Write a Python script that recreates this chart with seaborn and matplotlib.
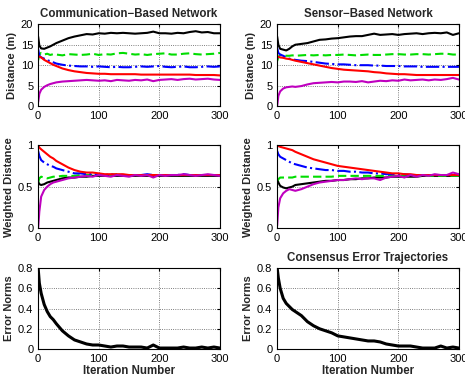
import matplotlib
matplotlib.use("Agg")
import matplotlib.pyplot as plt
import seaborn as sns

# iteration grid of the sampled values
iters = [0, 2, 5, 10, 15, 20, 25, 30, 40, 50, 60, 70, 80, 90, 100, 110, 120, 130,
         140, 150, 160, 170, 180, 190, 200, 210, 220, 230, 240, 250, 260, 270,
         280, 290, 300]

# Communication-based network, distance (m)
comm_black = [17.0, 14.8, 14.1, 14.0, 14.3, 14.6, 15.0, 15.4, 16.0, 16.6, 17.0, 17.3, 17.6, 17.5, 17.8, 17.7, 17.9, 17.8, 17.9, 17.8, 17.7, 17.8, 17.9, 18.2, 17.8, 17.8, 17.7, 17.9, 17.8, 18.1, 18.3, 18.0, 18.1, 17.8, 17.8]
comm_green = [11.2, 12.6, 13.0, 12.6, 12.8, 12.5, 12.7, 12.6, 12.4, 12.7, 12.6, 12.5, 12.6, 12.8, 12.5, 12.7, 12.6, 12.9, 13.0, 12.8, 12.6, 12.7, 12.5, 12.7, 12.8, 12.9, 12.6, 12.6, 12.8, 12.9, 12.7, 12.6, 12.7, 12.8, 13.0]
comm_blue = [14.0, 12.3, 11.9, 11.6, 11.2, 11.0, 10.7, 10.4, 10.1, 9.9, 9.8, 9.7, 9.7, 9.6, 9.7, 9.6, 9.5, 9.6, 9.5, 9.5, 9.6, 9.7, 9.6, 9.7, 9.8, 9.6, 9.5, 9.6, 9.7, 9.5, 9.5, 9.6, 9.7, 9.6, 9.7]
comm_red = [12.2, 12.1, 11.9, 11.3, 10.9, 10.5, 10.1, 9.8, 9.2, 8.8, 8.5, 8.3, 8.1, 8.0, 7.9, 7.9, 7.8, 7.8, 7.8, 7.8, 7.8, 7.7, 7.7, 7.7, 7.7, 7.7, 7.7, 7.7, 7.7, 7.7, 7.6, 7.6, 7.6, 7.6, 7.5]
comm_magenta = [1.0, 3.0, 4.0, 4.7, 5.1, 5.4, 5.6, 5.8, 6.0, 6.1, 6.2, 6.3, 6.4, 6.3, 6.2, 6.3, 6.1, 6.4, 6.3, 6.2, 6.4, 6.3, 6.5, 6.1, 6.4, 6.5, 6.6, 6.4, 6.6, 6.7, 6.5, 6.6, 6.7, 6.5, 6.4]

# Sensor-based network, distance (m)
sens_black = [17.0, 15.0, 14.0, 13.8, 13.6, 14.0, 14.6, 15.0, 15.2, 15.4, 15.8, 16.2, 16.3, 16.5, 16.6, 16.8, 17.0, 17.1, 17.1, 17.4, 17.7, 17.4, 17.5, 17.6, 17.4, 17.6, 17.7, 17.8, 17.6, 17.8, 17.9, 17.8, 18.0, 17.4, 17.8]
sens_green = [11.0, 12.0, 12.5, 12.6, 12.3, 12.3, 12.4, 12.3, 12.4, 12.5, 12.4, 12.5, 12.4, 12.5, 12.5, 12.6, 12.5, 12.4, 12.5, 12.6, 12.5, 12.5, 12.6, 12.7, 12.7, 12.6, 12.6, 12.7, 12.7, 12.6, 12.7, 12.8, 12.8, 12.6, 12.6]
sens_blue = [14.2, 13.0, 12.6, 12.3, 11.9, 11.6, 11.4, 11.3, 11.1, 11.0, 10.8, 10.6, 10.4, 10.3, 10.2, 10.2, 10.1, 10.0, 10.0, 10.0, 9.9, 9.9, 9.8, 9.8, 9.8, 9.7, 9.7, 9.7, 9.6, 9.6, 9.6, 9.6, 9.6, 9.6, 9.6]
sens_red = [12.2, 12.0, 11.9, 11.8, 11.6, 11.5, 11.3, 11.1, 10.8, 10.5, 10.2, 9.9, 9.6, 9.3, 9.1, 8.9, 8.8, 8.7, 8.6, 8.5, 8.3, 8.2, 8.0, 7.9, 7.8, 7.8, 7.7, 7.6, 7.6, 7.6, 7.6, 7.6, 7.6, 7.6, 7.6]
sens_magenta = [0.0, 2.5, 3.6, 4.3, 4.6, 4.7, 4.8, 4.7, 4.9, 5.3, 5.6, 5.7, 5.8, 5.9, 5.8, 6.0, 6.0, 5.9, 6.1, 5.8, 6.0, 6.2, 6.1, 6.3, 6.2, 6.5, 6.3, 6.4, 6.5, 6.3, 6.5, 6.4, 6.6, 6.9, 6.5]

# Communication-based network, weighted distance
wcomm_red = [1.0, 0.97, 0.95, 0.92, 0.89, 0.86, 0.84, 0.81, 0.77, 0.73, 0.70, 0.68, 0.67, 0.67, 0.66, 0.65, 0.65, 0.65, 0.65, 0.64, 0.64, 0.64, 0.64, 0.64, 0.64, 0.64, 0.64, 0.64, 0.64, 0.64, 0.64, 0.64, 0.64, 0.64, 0.64]
wcomm_blue = [0.93, 0.87, 0.82, 0.79, 0.77, 0.75, 0.74, 0.72, 0.70, 0.68, 0.66, 0.66, 0.65, 0.65, 0.64, 0.64, 0.65, 0.64, 0.64, 0.64, 0.64, 0.64, 0.65, 0.64, 0.64, 0.64, 0.64, 0.64, 0.65, 0.64, 0.64, 0.64, 0.64, 0.64, 0.64]
wcomm_green = [0.55, 0.60, 0.62, 0.61, 0.60, 0.61, 0.62, 0.62, 0.63, 0.63, 0.63, 0.64, 0.64, 0.64, 0.64, 0.64, 0.64, 0.65, 0.64, 0.64, 0.64, 0.64, 0.64, 0.64, 0.64, 0.64, 0.64, 0.64, 0.64, 0.64, 0.64, 0.64, 0.64, 0.64, 0.64]
wcomm_black = [0.56, 0.53, 0.52, 0.53, 0.55, 0.56, 0.57, 0.58, 0.60, 0.61, 0.61, 0.62, 0.62, 0.63, 0.63, 0.63, 0.63, 0.63, 0.63, 0.63, 0.63, 0.63, 0.63, 0.63, 0.63, 0.63, 0.63, 0.63, 0.63, 0.63, 0.63, 0.63, 0.63, 0.63, 0.63]
wcomm_magenta = [0.0, 0.20, 0.38, 0.46, 0.50, 0.53, 0.55, 0.56, 0.58, 0.60, 0.61, 0.62, 0.63, 0.62, 0.64, 0.63, 0.62, 0.64, 0.63, 0.62, 0.64, 0.63, 0.64, 0.61, 0.64, 0.63, 0.64, 0.64, 0.65, 0.64, 0.63, 0.64, 0.65, 0.64, 0.63]

# Sensor-based network, weighted distance
wsens_red = [1.0, 0.99, 0.98, 0.97, 0.96, 0.95, 0.94, 0.92, 0.89, 0.86, 0.83, 0.81, 0.79, 0.77, 0.75, 0.74, 0.73, 0.72, 0.71, 0.70, 0.69, 0.68, 0.67, 0.66, 0.66, 0.65, 0.65, 0.64, 0.64, 0.64, 0.64, 0.64, 0.64, 0.64, 0.64]
wsens_blue = [0.93, 0.89, 0.86, 0.84, 0.82, 0.80, 0.78, 0.77, 0.75, 0.73, 0.72, 0.71, 0.70, 0.70, 0.69, 0.69, 0.68, 0.68, 0.67, 0.67, 0.66, 0.66, 0.65, 0.65, 0.65, 0.65, 0.64, 0.64, 0.64, 0.64, 0.64, 0.64, 0.64, 0.64, 0.64]
wsens_green = [0.57, 0.59, 0.61, 0.61, 0.61, 0.61, 0.61, 0.62, 0.62, 0.62, 0.62, 0.62, 0.62, 0.62, 0.63, 0.63, 0.63, 0.63, 0.63, 0.63, 0.63, 0.63, 0.63, 0.63, 0.63, 0.63, 0.63, 0.63, 0.63, 0.63, 0.63, 0.63, 0.63, 0.63, 0.63]
wsens_black = [0.60, 0.55, 0.51, 0.49, 0.48, 0.49, 0.50, 0.52, 0.53, 0.54, 0.55, 0.56, 0.57, 0.57, 0.58, 0.58, 0.59, 0.59, 0.60, 0.60, 0.61, 0.61, 0.61, 0.62, 0.62, 0.62, 0.62, 0.62, 0.63, 0.63, 0.63, 0.63, 0.63, 0.63, 0.63]
wsens_magenta = [0.03, 0.25, 0.36, 0.42, 0.45, 0.47, 0.46, 0.45, 0.47, 0.50, 0.53, 0.55, 0.56, 0.57, 0.58, 0.58, 0.59, 0.60, 0.59, 0.60, 0.60, 0.58, 0.61, 0.62, 0.63, 0.61, 0.64, 0.62, 0.64, 0.63, 0.65, 0.64, 0.64, 0.67, 0.65]

# consensus error norms
err_comm = [0.80, 0.65, 0.55, 0.44, 0.37, 0.32, 0.29, 0.25, 0.18, 0.13, 0.09, 0.07, 0.05, 0.04, 0.04, 0.03, 0.02, 0.03, 0.03, 0.02, 0.02, 0.02, 0.01, 0.04, 0.01, 0.01, 0.01, 0.01, 0.02, 0.01, 0.01, 0.02, 0.01, 0.02, 0.01]
err_sens = [0.80, 0.70, 0.60, 0.50, 0.45, 0.42, 0.39, 0.37, 0.33, 0.27, 0.23, 0.20, 0.18, 0.16, 0.13, 0.12, 0.11, 0.10, 0.09, 0.08, 0.08, 0.07, 0.05, 0.04, 0.03, 0.03, 0.03, 0.02, 0.01, 0.01, 0.01, 0.03, 0.01, 0.02, 0.01]

sns.set_style("white")
plt.rcParams["font.family"] = ["Liberation Sans", "DejaVu Sans"]
plt.rcParams["xtick.direction"] = "in"
plt.rcParams["ytick.direction"] = "in"

styles = [("k", "-"), ("#00dd00", (0, (4, 2))), ("b", "-."), ("r", "-"), ("m", "-")]

fig = plt.figure(figsize=(4.65, 3.79), dpi=100)
left_x, right_x, w = 0.082, 0.596, 0.391
rows = [(0.720, 0.216), (0.398, 0.219), (0.079, 0.214)]

def setup(ax, ylim, yticks, ylabel):
    ax.set_xlim(0, 300)
    ax.set_ylim(*ylim)
    ax.set_xticks([0, 100, 200, 300])
    ax.set_yticks(yticks)
    ax.grid(True, linestyle=":", color="#555555", linewidth=0.6)
    for s in ax.spines.values():
        s.set_color("k")
        s.set_linewidth(0.8)
    ax.tick_params(labelsize=8, length=2.5, colors="k", top=True, right=True)
    ax.set_ylabel(ylabel, fontsize=8, fontweight="bold", labelpad=3)

panels = [
    (left_x, 0, [comm_black, comm_green, comm_blue, comm_red, comm_magenta]),
    (right_x, 0, [sens_black, sens_green, sens_blue, sens_red, sens_magenta]),
    (left_x, 1, [wcomm_black, wcomm_green, wcomm_blue, wcomm_red, wcomm_magenta]),
    (right_x, 1, [wsens_black, wsens_green, wsens_blue, wsens_red, wsens_magenta]),
]

axes = []
for x0, r, series in panels:
    ax = fig.add_axes([x0, rows[r][0], w, rows[r][1]])
    for vals, (c, ls) in zip(series, styles):
        sns.lineplot(x=iters, y=vals, ax=ax, color=c, linestyle=ls, linewidth=1.5)
    if r == 0:
        setup(ax, (0, 20), [0, 5, 10, 15, 20], "Distance (m)")
    else:
        setup(ax, (0, 1), [0, 0.5, 1], "Weighted Distance")
        ax.set_yticklabels(["0", "0.5", "1"])
    axes.append(ax)

axes[0].set_title("Communication\u2212Based Network", fontsize=8.3, fontweight="bold", pad=5)
axes[1].set_title("Sensor\u2212Based Network", fontsize=8.3, fontweight="bold", pad=5)

for x0, err in [(left_x, err_comm), (right_x, err_sens)]:
    ax = fig.add_axes([x0, rows[2][0], w, rows[2][1]])
    sns.lineplot(x=iters, y=err, ax=ax, color="k", linewidth=2.2)
    setup(ax, (0, 0.8), [0, 0.2, 0.4, 0.6, 0.8], "Error Norms")
    ax.set_yticklabels(["0", "0.2", "0.4", "0.6", "0.8"])
    ax.set_xlabel("Iteration Number", fontsize=8.3, fontweight="bold", labelpad=1)
    axes.append(ax)

axes[5].set_title("Consensus Error Trajectories", fontsize=8.3, fontweight="bold", pad=5)

fig.savefig("out.png", dpi=100)
